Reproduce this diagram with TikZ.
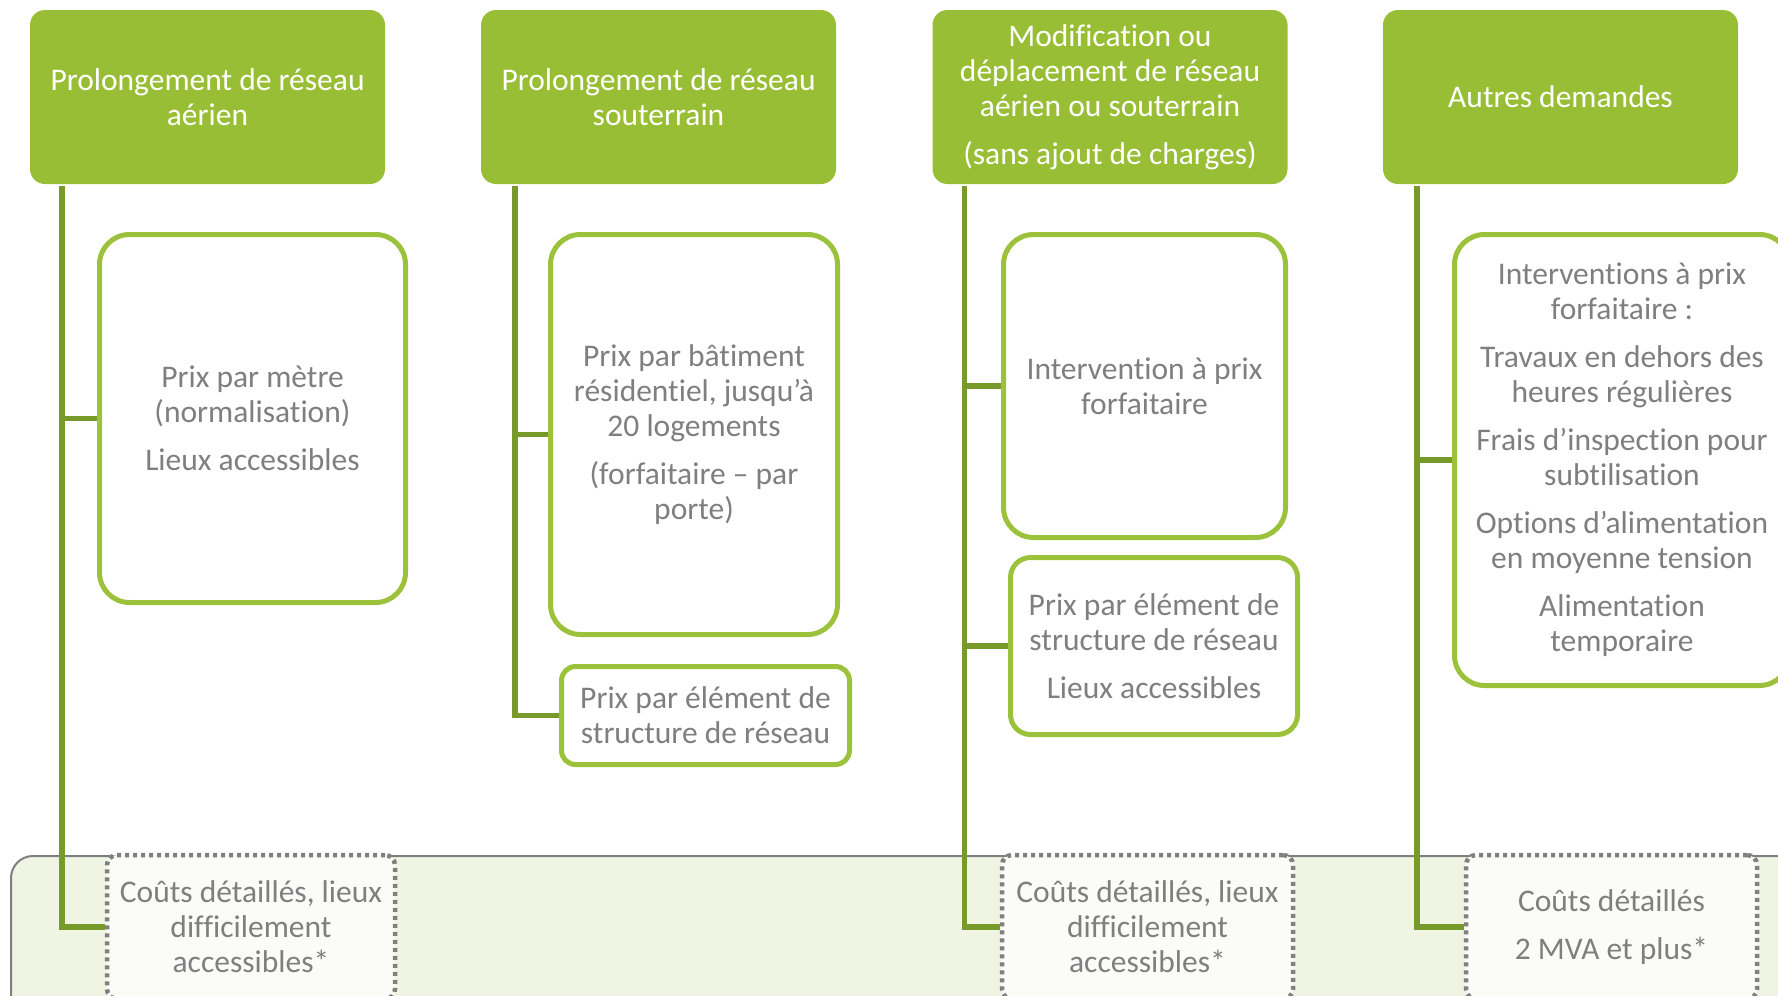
\documentclass[tikz,border=0pt]{standalone}
\usepackage{fontspec}
\setmainfont{Carlito}[Ligatures=NoCommon]
\definecolor{hdr}{HTML}{98BE35}
\definecolor{conn}{HTML}{789A2B}
\definecolor{boxline}{HTML}{9CC13A}
\definecolor{txtgray}{HTML}{7F7F7F}
\definecolor{bandfill}{HTML}{F0F4E3}
\definecolor{bandline}{HTML}{7F7F7F}
\tikzset{
  txt/.style={align=center, font=\fontsize{31.5}{35}\selectfont, inner sep=0pt},
  header/.style={txt, fill=hdr, draw=none, text=white, rounded corners=15pt},
  greenbox/.style={txt, draw=boxline, line width=5pt, fill=white, text=txtgray},
  dotbox/.style={txt, draw=bandline, line width=4.5pt, dash pattern=on 4pt off 4pt, fill=white!75!bandfill, text=txtgray, rounded corners=10pt},
  connector/.style={draw=conn, line width=5.5pt},
  bandbox/.style={draw=bandline, line width=2pt, fill=bandfill, rounded corners=22pt, inner sep=0pt},
}
\begin{document}
\begin{tikzpicture}[x=1pt,y=-1pt]
\useasboundingbox (0,0) rectangle (1778,996);
% band
\node[bandbox, minimum width=1789pt, minimum height=180pt] (band) at (905.5,946) {};
% headers
\node[header, minimum width=355pt, minimum height=174pt] (h1) at (207.5,97) {Prolongement de réseau\\aérien};
\node[header, minimum width=355pt, minimum height=174pt] (h2) at (658.5,97) {Prolongement de réseau\\souterrain};
\node[header, minimum width=355pt, minimum height=174pt] (h3) at (1110,97) {Modification ou\\déplacement de réseau\\aérien ou souterrain\\[13pt](sans ajout de charges)};
\node[header, minimum width=355pt, minimum height=174pt] (h4) at (1560.5,97) {Autres demandes};
% column 1
\node[greenbox, rounded corners=30pt, minimum width=306pt, minimum height=368pt] (a1) at (252.5,418.5) {Prix par mètre\\(normalisation)\\[13pt]Lieux accessibles};
\node[dotbox, minimum width=288pt, minimum height=144pt] (d1) at (251,927) {Coûts détaillés, lieux\\difficilement\\accessibles*};
% column 2
\node[greenbox, rounded corners=30pt, minimum width=287pt, minimum height=400pt] (b1) at (694,434.5) {Prix par bâtiment\\résidentiel, jusqu’à\\20 logements\\[13pt](forfaitaire – par\\porte)};
\node[greenbox, rounded corners=14pt, minimum width=288pt, minimum height=98pt] (b2) at (705.5,715.5) {Prix par élément de\\structure de réseau};
% column 3
\node[greenbox, rounded corners=30pt, minimum width=282pt, minimum height=303pt] (c1) at (1144.5,386) {Intervention à prix\\forfaitaire};
\node[greenbox, rounded corners=20pt, minimum width=287pt, minimum height=177pt] (c2) at (1154,646) {Prix par élément de\\structure de réseau\\[13pt]Lieux accessibles};
\node[dotbox, minimum width=291pt, minimum height=144pt] (d3) at (1147.5,927) {Coûts détaillés, lieux\\difficilement\\accessibles*};
% column 4
\node[greenbox, rounded corners=30pt, minimum width=335pt, minimum height=451pt] (e1) at (1622,460) {Interventions à prix\\forfaitaire :\\[13pt]Travaux en dehors des\\heures régulières\\[13pt]Frais d’inspection pour\\subtilisation\\[13pt]Options d’alimentation\\en moyenne tension\\[13pt]Alimentation\\temporaire};
\node[dotbox, minimum width=291pt, minimum height=144pt] (d4) at (1611.5,927) {Coûts détaillés\\[13pt]2 MVA et plus*};
% trunk start points
\coordinate (t1) at ([xshift=32pt,yshift=-2pt]h1.south west);
\coordinate (t2) at ([xshift=34pt,yshift=-2pt]h2.south west);
\coordinate (t3) at ([xshift=32pt,yshift=-2pt]h3.south west);
\coordinate (t4) at ([xshift=34pt,yshift=-2pt]h4.south west);
% connectors
\draw[connector] (t1) |- (a1.west);
\draw[connector] (t1) |- (d1.west);
\draw[connector] (t2) |- (b1.west);
\draw[connector] (t2) |- (b2.west);
\draw[connector] (t3) |- (c1.west);
\draw[connector] (t3) |- (c2.west);
\draw[connector] (t3) |- (d3.west);
\draw[connector] (t4) |- (e1.west);
\draw[connector] (t4) |- (d4.west);
\end{tikzpicture}
\end{document}
